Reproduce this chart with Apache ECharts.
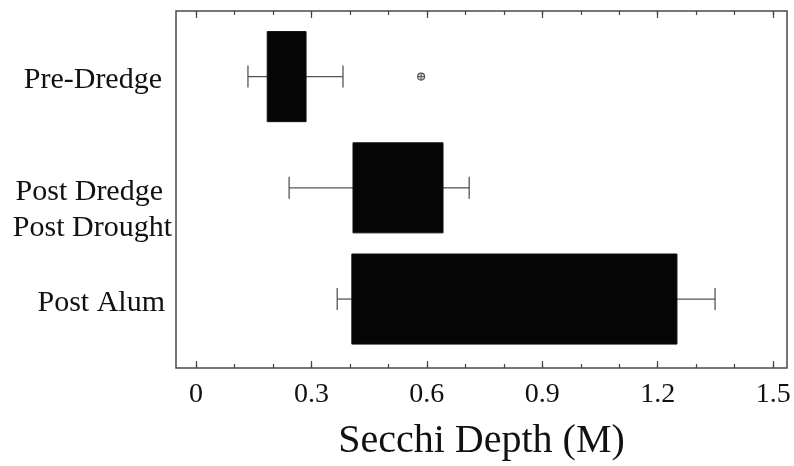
<!DOCTYPE html>
<html>
<head>
<meta charset="utf-8">
<script src="https://cdn.jsdelivr.net/npm/echarts@6/dist/echarts.min.js"></script>
<style>
  html, body { margin: 0; padding: 0; background: #fff; }
  #chart { width: 794px; height: 466px; }
</style>
</head>
<body>
<div id="chart"></div>
<script>
// ---- data ----
const categories = ['Pre-Dredge', 'Post Dredge\nPost Drought', 'Post Alum'];
const whiskerLow = [0.135, 0.242, 0.367];
const q1 = [0.185, 0.408, 0.405];
const q3 = [0.286, 0.642, 1.250];
const whiskerHigh = [0.382, 0.710, 1.349];
const outlierValues = [0.585];
const outlierCategory = [0];
const majorTicks = [0, 0.3, 0.6, 0.9, 1.2, 1.5];
const minorTicks = [0, 0.1, 0.2, 0.3, 0.4, 0.5, 0.6, 0.7, 0.8, 0.9, 1.0, 1.1, 1.2, 1.3, 1.4, 1.5];
const xTitle = 'Secchi Depth (M)';

const X_MIN = -0.052, X_MAX = 1.536;
const Y_MIN = -0.59, Y_MAX = 2.62;
const FONT = 'Liberation Serif, Times New Roman, serif';

const boxData = categories.map((c, i) => [i, whiskerLow[i], q1[i], q3[i], whiskerHigh[i]]);
const outlierData = outlierValues.map((v, i) => [v, outlierCategory[i]]);

function xAxisDef(pos, ticks, len, showLabels, name) {
  const ax = {
    type: 'value', position: pos, min: X_MIN, max: X_MAX,
    axisLine: { show: false, onZero: false },
    splitLine: { show: false },
    axisTick: { show: true, inside: true, length: len, customValues: ticks,
                lineStyle: { color: '#444', width: 1.2 } },
    axisLabel: { show: showLabels, customValues: majorTicks, fontFamily: FONT, fontSize: 28,
                 color: '#111', margin: 13 }
  };
  if (name) {
    ax.name = name; ax.nameLocation = 'middle'; ax.nameGap = 53;
    ax.nameTextStyle = { fontFamily: FONT, fontSize: 40, color: '#111' };
  }
  return ax;
}

const labelStyleKeys = ['p0', 'b', 'p2'];

const chart = echarts.init(document.getElementById('chart'), null, { renderer: 'canvas' });
chart.setOption({
  animation: false,
  backgroundColor: '#fff',
  grid: { left: 176, right: 7, top: 11, bottom: 97, show: true,
          borderColor: '#4a4a4a', borderWidth: 1.5, backgroundColor: 'transparent' },
  xAxis: [
    xAxisDef('bottom', majorTicks, 7, true, xTitle),
    xAxisDef('bottom', minorTicks, 4, false),
    xAxisDef('top', majorTicks, 7, false),
    xAxisDef('top', minorTicks, 4, false)
  ],
  yAxis: {
    type: 'value', inverse: true, min: Y_MIN, max: Y_MAX,
    axisLine: { show: false, onZero: false }, axisTick: { show: false }, splitLine: { show: false },
    axisLabel: {
      customValues: [0, 1, 2], margin: 4, fontFamily: FONT, fontSize: 30, color: '#111',
      formatter: function (v) {
        const i = Math.round(v);
        const name = categories[i];
        if (name.indexOf('\n') >= 0) {
          const parts = name.split('\n');
          return '{s| }\n{b|' + parts[0] + '}\n{a|' + parts[1] + '}';
        }
        return '{' + labelStyleKeys[i] + '|' + name + '}';
      },
      rich: {
        s: { fontFamily: FONT, fontSize: 10, lineHeight: 44 },
        a: { fontFamily: FONT, fontSize: 30, color: '#111', lineHeight: 36 },
        b: { fontFamily: FONT, fontSize: 30, color: '#111', lineHeight: 36, padding: [0, 9, 0, 0] },
        p0: { fontFamily: FONT, fontSize: 30, color: '#111', lineHeight: 36, padding: [8, 10, 0, 0] },
        p2: { fontFamily: FONT, fontSize: 30, color: '#111', lineHeight: 36, padding: [8, 7, 0, 0] }
      }
    }
  },
  series: [
    {
      type: 'custom',
      xAxisIndex: 0,
      data: boxData,
      encode: { y: 0, x: [1, 2, 3, 4] },
      renderItem: function (params, api) {
        const idx = api.value(0);
        const lo = api.coord([api.value(1), idx]);
        const b1 = api.coord([api.value(2), idx]);
        const b3 = api.coord([api.value(3), idx]);
        const hi = api.coord([api.value(4), idx]);
        const h = api.size([0, 1])[1] * 0.81;
        const cap = 11;
        const ls = { stroke: '#555', lineWidth: 1.3 };
        return {
          type: 'group',
          children: [
            { type: 'line', shape: { x1: lo[0], y1: lo[1], x2: b1[0], y2: b1[1] }, style: ls },
            { type: 'line', shape: { x1: b3[0], y1: b3[1], x2: hi[0], y2: hi[1] }, style: ls },
            { type: 'line', shape: { x1: lo[0], y1: lo[1] - cap, x2: lo[0], y2: lo[1] + cap }, style: ls },
            { type: 'line', shape: { x1: hi[0], y1: hi[1] - cap, x2: hi[0], y2: hi[1] + cap }, style: ls },
            { type: 'rect', shape: { x: b1[0], y: b1[1] - h / 2, width: b3[0] - b1[0], height: h },
              style: { fill: '#050505', stroke: '#111', lineWidth: 1 } }
          ]
        };
      }
    },
    {
      type: 'custom',
      xAxisIndex: 0,
      data: outlierData,
      encode: { x: 0, y: 1 },
      renderItem: function (params, api) {
        const p = api.coord([api.value(0), api.value(1)]);
        const r = 3.5;
        const st = { stroke: '#555', lineWidth: 1 };
        return {
          type: 'group',
          children: [
            { type: 'circle', shape: { cx: p[0], cy: p[1], r: r }, style: { fill: '#ddd', stroke: '#555', lineWidth: 1.2 } },
            { type: 'line', shape: { x1: p[0] - r, y1: p[1], x2: p[0] + r, y2: p[1] }, style: st },
            { type: 'line', shape: { x1: p[0], y1: p[1] - r, x2: p[0], y2: p[1] + r }, style: st }
          ]
        };
      }
    }
  ]
});
</script>
</body>
</html>
